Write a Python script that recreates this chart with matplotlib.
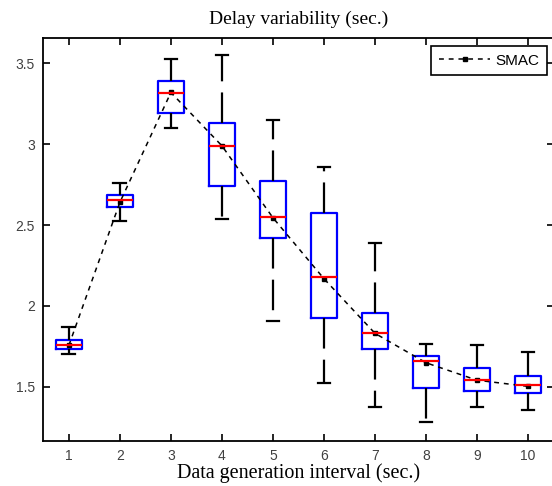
import numpy as np
import matplotlib
matplotlib.use("Agg")
import matplotlib.pyplot as plt

# data
intervals = [1, 2, 3, 4, 5, 6, 7, 8, 9, 10]
whis_hi = [1.871, 2.758, 3.526, 3.551, 3.149, 2.861, 2.387, 1.766, 1.756, 1.713]
q3 = [1.789, 2.686, 3.392, 3.129, 2.772, 2.576, 1.958, 1.692, 1.616, 1.564]
medians = [1.758, 2.653, 3.318, 2.990, 2.548, 2.178, 1.830, 1.659, 1.541, 1.512]
q1 = [1.733, 2.609, 3.194, 2.741, 2.421, 1.923, 1.733, 1.490, 1.473, 1.459]
whis_lo = [1.702, 2.525, 3.098, 2.537, 1.906, 1.521, 1.376, 1.280, 1.375, 1.356]
means = [1.755, 2.640, 3.320, 2.990, 2.545, 2.168, 1.830, 1.648, 1.540, 1.502]

plt.rcParams['lines.scale_dashes'] = False

def main():
    fig = plt.figure(figsize=(5.52, 4.86), dpi=100)
    ax = fig.add_axes([0.0785, 0.0926, 0.9243, 0.8286])

    stats = []
    for i in range(len(intervals)):
        stats.append({'med': medians[i], 'q1': q1[i], 'q3': q3[i],
                      'whislo': whis_lo[i], 'whishi': whis_hi[i],
                      'fliers': [], 'label': str(intervals[i])})

    ax.bxp(stats, positions=intervals, widths=0.5, showfliers=False,
           boxprops=dict(color='#0000ff', linewidth=1.6),
           medianprops=dict(color='#ff0000', linewidth=1.6),
           whiskerprops=dict(color='black', linewidth=1.6, linestyle=(0, (22, 8))),
           capprops=dict(color='black', linewidth=1.6), capwidths=0.25)

    ax.plot(intervals, means, color='black', linestyle=(0, (3.5, 3.5)),
            linewidth=1.1, marker='s', markersize=3, label='SMAC')

    ax.set_xlim(0.5, 10.5)
    ax.set_ylim(1.164, 3.655)
    ax.set_xticks(intervals)
    ax.set_xticklabels([str(v) for v in intervals])
    ax.set_yticks([1.5, 2, 2.5, 3, 3.5])
    ax.set_yticklabels(['1.5', '2', '2.5', '3', '3.5'])
    ax.tick_params(direction='in', length=5, width=1.2, top=True, right=True,
                   labelsize=10, labelcolor='#404040', pad=6)
    for lab in ax.get_xticklabels() + ax.get_yticklabels():
        lab.set_family('Liberation Sans')
    for sp in ax.spines.values():
        sp.set_linewidth(1.3)

    ax.set_title('Delay variability (sec.)', family='Liberation Serif',
                 fontsize=14, pad=10)
    ax.set_xlabel('Data generation interval (sec.)', family='Liberation Serif',
                  fontsize=14.5, labelpad=0)

    leg = ax.legend(loc='upper right', bbox_to_anchor=(546.7 / 552, 1 - 46 / 486),
                    bbox_transform=fig.transFigure, fancybox=False,
                    edgecolor='black', framealpha=1, handlelength=3.4,
                    borderpad=0.5, handletextpad=0.3, borderaxespad=0,
                    prop={'family': 'Liberation Sans', 'size': 11})
    leg.get_frame().set_linewidth(1.2)

    fig.savefig('out.png', dpi=100)
    return 0

if __name__ == "__main__":
    main()
